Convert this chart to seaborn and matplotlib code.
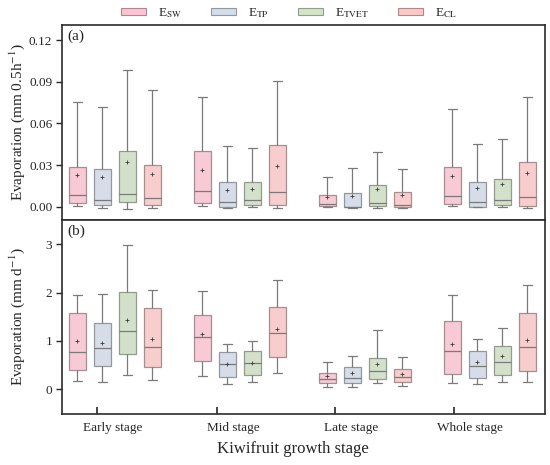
import numpy as np
import pandas as pd
import matplotlib
matplotlib.use("Agg")
import matplotlib.pyplot as plt
import matplotlib.transforms as mtransforms
from matplotlib.patches import Patch
import seaborn as sns

# categories
stages = ["Early stage", "Mid stage", "Late stage", "Whole stage"]
sources = ["E_SW", "E_TP", "E_TVET", "E_CL"]
source_labels = [r"E$_{\mathrm{SW}}$", r"E$_{\mathrm{TP}}$", r"E$_{\mathrm{TVET}}$", r"E$_{\mathrm{CL}}$"]

# panel (a): half-hourly evaporation, rows = stage, cols = source (SW, TP, TVET, CL)
a_min = [[0.0005, -0.0012, -0.0015, -0.001],
         [0.0003, -0.001, 0.0, -0.001],
         [0.0, -0.001, -0.0007, -0.0012],
         [0.0005, -0.0005, 0.0, -0.0012]]
a_q1 = [[0.0025, 0.0015, 0.003, 0.0015],
        [0.0025, 0.0, 0.0015, 0.0015],
        [0.0005, -0.0005, 0.0005, -0.0005],
        [0.0019, 0.0, 0.0012, 0.0005]]
a_med = [[0.0087, 0.0045, 0.009, 0.0065],
         [0.011, 0.003, 0.0045, 0.0105],
         [0.0017, 0.0, 0.0024, 0.001],
         [0.0077, 0.0034, 0.0046, 0.007]]
a_q3 = [[0.0285, 0.0275, 0.0405, 0.030],
        [0.0405, 0.018, 0.018, 0.0445],
        [0.0086, 0.0096, 0.0154, 0.0103],
        [0.0286, 0.0175, 0.0197, 0.0324]]
a_max = [[0.0757, 0.0718, 0.0985, 0.084],
         [0.079, 0.044, 0.042, 0.091],
         [0.0216, 0.0276, 0.0394, 0.0269],
         [0.0706, 0.0451, 0.0485, 0.0794]]
a_mean = [[0.0225, 0.0215, 0.032, 0.0235],
          [0.0265, 0.012, 0.0125, 0.029],
          [0.007, 0.0079, 0.0125, 0.0082],
          [0.022, 0.0132, 0.0163, 0.024]]

# panel (b): daily evaporation
b_min = [[0.18, 0.15, 0.29, 0.20],
         [0.28, 0.12, 0.15, 0.33],
         [0.055, 0.055, 0.14, 0.07],
         [0.14, 0.11, 0.145, 0.15]]
b_q1 = [[0.395, 0.48, 0.73, 0.46],
        [0.59, 0.26, 0.30, 0.67],
        [0.13, 0.13, 0.22, 0.15],
        [0.32, 0.23, 0.29, 0.37]]
b_med = [[0.78, 0.85, 1.21, 0.88],
         [1.08, 0.52, 0.54, 1.17],
         [0.21, 0.23, 0.37, 0.25],
         [0.79, 0.48, 0.56, 0.88]]
b_q3 = [[1.57, 1.37, 2.01, 1.69],
        [1.54, 0.77, 0.80, 1.71],
        [0.33, 0.46, 0.655, 0.42],
        [1.42, 0.79, 0.89, 1.57]]
b_max = [[1.95, 1.97, 2.99, 2.06],
         [2.04, 0.93, 0.99, 2.26],
         [0.57, 0.69, 1.22, 0.67],
         [1.94, 1.04, 1.26, 2.16]]
b_mean = [[0.99, 0.96, 1.44, 1.05],
          [1.14, 0.52, 0.55, 1.24],
          [0.28, 0.33, 0.52, 0.32],
          [0.93, 0.56, 0.69, 1.01]]

colors = ["#FFC2D1", "#D3DCEB", "#D3E5C6", "#FFC6C6"]


def long_table(mn, q1, md, q3, mx):
    # five-number summary per box -> points whose quartiles equal it
    rows = []
    for i, st in enumerate(stages):
        for j, src in enumerate(sources):
            for v in (mn[i][j], q1[i][j], md[i][j], q3[i][j], mx[i][j]):
                rows.append((st, src, v))
    return pd.DataFrame(rows, columns=["stage", "source", "value"])


def mean_table(mean):
    rows = [(st, src, mean[i][j]) for i, st in enumerate(stages) for j, src in enumerate(sources)]
    return pd.DataFrame(rows, columns=["stage", "source", "value"])


def edge_of(c):
    return tuple(np.array(matplotlib.colors.to_rgb(c)) * 0.55 + 0.12)


sns.set_style("white")
plt.rcParams["font.family"] = ["Liberation Serif", "DejaVu Serif"]
plt.rcParams["mathtext.fontset"] = "stix"

fig = plt.figure(figsize=(5.5, 4.65), dpi=100)
ax_a = fig.add_axes([0.1127, 0.527, 0.8782, 0.419])
ax_b = fig.add_axes([0.1127, 0.1097, 0.8782, 0.4173])

panels = [
    (ax_a, long_table(a_min, a_q1, a_med, a_q3, a_max), mean_table(a_mean),
     "Evaporation (mm 0.5h$^{-1}$)", (-0.0096, 0.131), [0, 0.03, 0.06, 0.09, 0.12], "(a)"),
    (ax_b, long_table(b_min, b_q1, b_med, b_q3, b_max), mean_table(b_mean),
     "Evaporation (mm d$^{-1}$)", (-0.51, 3.5), [0, 1, 2, 3], "(b)"),
]

for ax, df, dm, ylab, ylim, yticks, tag in panels:
    sns.boxplot(data=df, x="stage", y="value", hue="source", order=stages,
                hue_order=sources, palette=colors, whis=(0, 100), width=0.8,
                gap=0.33, linewidth=0.9, linecolor="#7a7a7a", legend=False, ax=ax)
    for p in ax.patches:
        p.set_edgecolor(edge_of(p.get_facecolor()))
    sns.stripplot(data=dm, x="stage", y="value", hue="source", order=stages,
                  hue_order=sources, palette=["#3a3a3a"] * 4, dodge=True,
                  jitter=False, marker="+", size=3.2, linewidth=0.6,
                  legend=False, ax=ax)
    ax.set_xlim(-0.424, 3.44)
    ax.set_ylim(*ylim)
    ax.set_yticks(yticks)
    ax.set_ylabel(ylab, fontsize=11)
    ax.tick_params(axis="y", direction="out", length=4.5, width=1, pad=2.5,
                   labelsize=9.5, left=True)
    for s in ax.spines.values():
        s.set_linewidth(1.2)
        s.set_color("#2b2b2b")
    ax.text(0.012, 0.975, tag, transform=ax.transAxes, va="top", ha="left",
            fontsize=11)
    ax.yaxis.set_label_coords(-0.072, 0.5)

ax_a.yaxis.set_major_formatter(matplotlib.ticker.FormatStrFormatter("%.2f"))
ax_a.set_xticks([])
ax_a.set_xlabel("")

# stage ticks sit a bit left of each group, as in the original figure
tick_pos = [-0.144, 0.816, 1.76, 2.712]
ax_b.set_xticks(tick_pos)
ax_b.set_xticklabels(stages)
ax_b.tick_params(axis="x", direction="in", length=5, width=1.2, pad=6,
                 labelsize=9.5, bottom=True)
shift = mtransforms.ScaledTranslation(0.16, 0, fig.dpi_scale_trans)
for lbl in ax_b.get_xticklabels():
    lbl.set_transform(lbl.get_transform() + shift)
ax_b.set_xlabel("Kiwifruit growth stage", fontsize=12)
ax_b.xaxis.set_label_coords(0.478, -0.14)

handles = [Patch(facecolor=c, edgecolor=edge_of(c), linewidth=0.8) for c in colors]
fig.legend(handles, source_labels, loc="center", bbox_to_anchor=(0.525, 0.972),
           ncol=4, frameon=False, fontsize=9.5, handlelength=1.9, handleheight=0.35,
           handletextpad=0.9, columnspacing=2.2)

fig.savefig("out.png", dpi=100)
